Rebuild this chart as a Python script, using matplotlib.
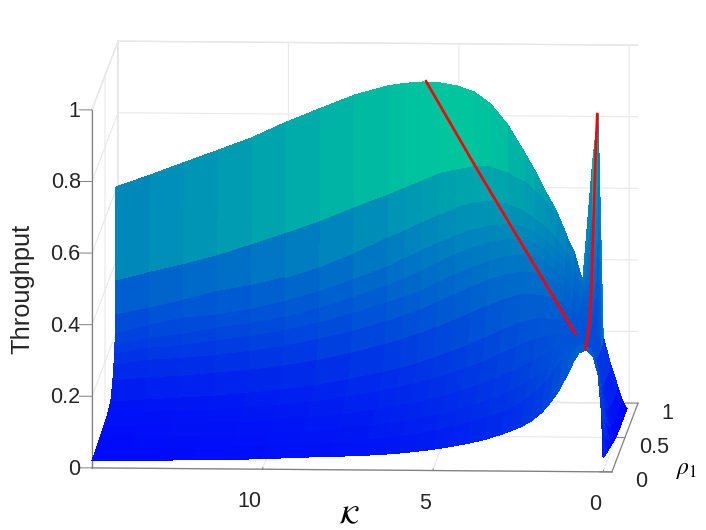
import numpy as np
import matplotlib
matplotlib.use('Agg')
import matplotlib.pyplot as plt
from matplotlib.colors import PowerNorm

plt.rcParams['font.family'] = ['Liberation Sans', 'DejaVu Sans']
plt.rcParams['mathtext.fontset'] = 'stix'
plt.rcParams['grid.color'] = '#e8e8e8'
plt.rcParams['grid.linewidth'] = 0.8

kappa = [15, 14, 13, 12, 11, 10, 9, 8, 7, 6.5, 6, 5.5, 5, 4.5, 4, 3.5, 3, 2.7, 2.4, 2.1, 1.8, 1.55, 1.3, 1.0, 0.85, 0.7, 0.5, 0.3, 0.15, 0.05, 0]
rho = [0, 0.15, 0.3, 0.45, 0.6, 0.72, 0.8, 0.84, 0.865, 0.88, 0.89, 0.90, 0.91, 0.92]

# throughput for each rho row
t_000 = [.020, .0215, .023, .025, .027, .029, .034, .037, .041, .044, .048, .053, .059, .067, .076, .087, .102, .113, .124, .141, .164, .192, .225, .279, .31, .332, .34, .324, .273, .17, .039]
t_015 = [.022, .023, .025, .027, .03, .034, .039, .045, .055, .061, .067, .075, .083, .094, .106, .121, .137, .153, .17, .193, .22, .255, .287, .31, .318, .326, .315, .27, .16, .07, .025]
t_030 = [.026, .027, .03, .033, .037, .041, .047, .055, .066, .073, .08, .089, .099, .112, .126, .143, .162, .178, .195, .215, .235, .258, .276, .285, .285, .285, .265, .18, .08, .03, .015]
t_045 = [.03, .032, .036, .04, .045, .05, .058, .068, .082, .09, .099, .11, .122, .137, .153, .172, .192, .207, .222, .238, .252, .262, .268, .264, .264, .25, .205, .09, .04, .012, .005]
t_060 = [.035, .04, .044, .05, .056, .063, .073, .087, .104, .114, .126, .139, .153, .17, .188, .21, .231, .244, .254, .262, .268, .267, .262, .259, .27, .195, .12, .065, .024, .006, 0]
t_072 = [.046, .052, .058, .064, .073, .082, .096, .114, .134, .146, .159, .176, .194, .213, .233, .255, .276, .283, .287, .287, .285, .273, .26, .263, .291, .188, .115, .056, .02, .005, 0]
t_080 = [.089, .098, .104, .113, .122, .134, .151, .171, .197, .212, .228, .246, .265, .286, .307, .325, .339, .34, .336, .328, .317, .295, .272, .281, .328, .184, .114, .052, .021, .005, 0]
t_084 = [.126, .14, .146, .155, .167, .182, .202, .225, .253, .27, .287, .308, .33, .351, .372, .386, .395, .392, .384, .37, .354, .32, .287, .301, .365, .184, .114, .053, .022, .004, 0]
t_0865 = [.152, .169, .178, .19, .204, .222, .244, .27, .301, .318, .335, .358, .381, .401, .418, .432, .438, .432, .418, .399, .377, .341, .306, .324, .417, .185, .115, .051, .018, .003, 0]
t_088 = [.171, .194, .206, .223, .238, .255, .281, .312, .346, .366, .386, .411, .434, .454, .468, .477, .476, .466, .449, .424, .396, .358, .318, .363, .475, .187, .118, .054, .019, .003, 0]
t_089 = [.203, .228, .249, .258, .275, .298, .326, .36, .397, .42, .442, .465, .485, .502, .513, .519, .511, .494, .475, .45, .422, .378, .333, .403, .543, .191, .121, .057, .02, .004, 0]
t_090 = [.254, .274, .297, .322, .34, .363, .394, .434, .479, .499, .522, .544, .561, .575, .581, .573, .551, .532, .509, .479, .443, .393, .345, .457, .624, .195, .124, .061, .021, .005, 0]
t_091 = [.35, .375, .398, .424, .455, .487, .521, .56, .597, .617, .637, .657, .668, .677, .677, .661, .636, .608, .58, .544, .485, .441, .356, .539, .75, .198, .128, .064, .022, .006, 0]
t_092 = [.608, .642, .678, .713, .749, .793, .832, .87, .897, .904, .908, .906, .898, .882, .848, .79, .712, .662, .606, .556, .49, .425, .358, .7, .823, .2, .13, .07, .026, .007, 0]

# the two red ridge lines
ridge1_k = [5.9, 4.4, 3.8, 3.3, 3.0, 2.7, 2.5, 2.3, 1.8, 1.4, 1.21]
ridge1_rho = [0.92, 0.91, 0.90, 0.89, 0.88, 0.865, 0.84, 0.8, 0.72, 0.6, 0.52]
ridge1_t = [.91, .668, .576, .5, .456, .413, .39, .37, .316, .29, .286]

ridge2_k = [.52, .71, .89, .95, .985, .985, .99, .97, .92, .875]
ridge2_rho = [0, 0.3, 0.6, 0.72, 0.8, 0.84, 0.88, 0.90, 0.91, 0.92]
ridge2_t = [.342, .307, .278, .282, .309, .351, .419, .527, .701, .822]

k_ticks = [0, 5, 10]
rho_ticks = [0, 0.5, 1]
t_ticks = [0, 0.2, 0.4, 0.6, 0.8, 1]

T = np.array([t_000, t_015, t_030, t_045, t_060, t_072, t_080, t_084,
              t_0865, t_088, t_089, t_090, t_091, t_092])
K, R = np.meshgrid(kappa, rho)

fig = plt.figure(figsize=(7.06, 5.30), dpi=100)
ax = fig.add_axes([100.1 / 706, 8.6 / 530, 515.8 / 706, 515.8 / 530],
                  projection='3d', proj_type='ortho')
ax.computed_zorder = False
ax.view_init(elev=8.2, azim=-86.9)
ax.set_box_aspect((520.8, 483, 361.7), zoom=1.5)

surf = ax.plot_surface(K, R, T, cmap='winter', norm=PowerNorm(gamma=0.8, vmin=0, vmax=1.08),
                       rstride=1, cstride=1, linewidth=0, antialiased=False, shade=False, zorder=1)
surf.set_clip_on(False)
ax.plot(ridge1_k, ridge1_rho, ridge1_t, color='red', lw=1.9, zorder=5)
ax.plot(ridge2_k, ridge2_rho, ridge2_t, color='red', lw=1.9, zorder=5)

ax.set_xlim(15, -0.26, view_margin=0)
ax.set_ylim(0, 1, view_margin=0)
ax.set_zlim(0, 1, view_margin=0)
ax.set_xticks(k_ticks)
ax.set_yticks(rho_ticks)
ax.set_zticks(t_ticks)
ax.set_xticklabels(['0', '5', '10'], ha='right')
ax.set_yticklabels(['0', '0.5', '1'], ha='center', va='bottom')
ax.set_zticklabels(['0', '0.2', '0.4', '0.6', '0.8', '1'], ha='right', va='center')

for axis in (ax.xaxis, ax.yaxis, ax.zaxis):
    axis.set_pane_color((1, 1, 1, 1))
    axis.pane.set_edgecolor('#e4e4e4')
    axis.line.set_color('#808080')
    axis.line.set_linewidth(0.9)
    axis._axinfo['tick']['inward_factor'] = 0.0
    axis._axinfo['tick']['outward_factor'] = 0.3
    axis._axinfo['tick']['linewidth'] = {True: 0.7, False: 0.5}
    axis._axinfo['tick']['color'] = '#808080'
ax.zaxis.set_ticks_position('lower')
ax.zaxis.set_label_position('lower')
# z ticks should point along the K direction, matlab style
ax.zaxis._get_tickdir = lambda position: 0
ax.tick_params(axis='both', labelsize=15.5, labelcolor='#262626', color='#808080')
ax.tick_params(axis='x', pad=2)
ax.tick_params(axis='y', pad=3)
ax.tick_params(axis='z', pad=-4)

ax.set_xlabel(r'$\mathcal{K}$', fontsize=18, labelpad=0)
ax.yaxis.set_rotate_label(False)
ax.yaxis._axinfo['label']['va'] = 'bottom'
ax.set_ylabel(r'$\rho_1$', fontsize=17, labelpad=2, rotation=0)
fig.text(22 / 706, 1 - 289 / 530, 'Throughput', fontsize=18.3, rotation=90,
         ha='center', va='center', color='#262626')

fig.savefig('out.png', dpi=100)
